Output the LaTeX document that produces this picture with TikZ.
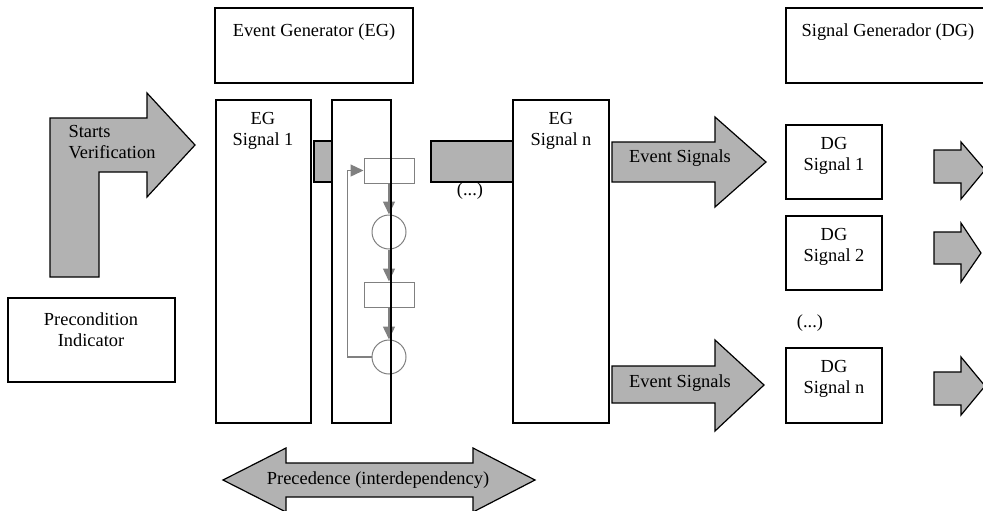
\documentclass[tikz,border=0pt]{standalone}
\usepackage{fontspec}
\setmainfont{Liberation Serif}
\usetikzlibrary{arrows.meta}
\begin{document}
\begin{tikzpicture}[x=0.5pt,y=-0.5pt,line width=0.6pt,
  fat/.style={draw=black,fill=black!30,line width=0.6pt},
  flow/.style={draw=black!50,line width=0.5pt,inner sep=0pt},
  flowarrow/.style={draw=black!50,line width=0.7pt,-{Triangle[length=6.5pt,width=6pt]}},
  every node/.style={font=\fontsize{9.2}{10.6}\selectfont,align=center}]

\clip (0,0) rectangle (983,510);

% generators
\draw (215,8) rectangle (413,83);
\node (eg) at (314,32) {Event Generator (EG)};
\draw (786,8) rectangle (995,83);
\node (dg) at (888,32) {Signal Generador (DG)};

% starts verification
\draw[fat] (50,277) -- (50,118) -- (147,118) -- (147,93) -- (195,145)
  -- (147,197) -- (147,172) -- (99,172) -- (99,277) -- cycle;
\node[anchor=west,align=left,inner sep=0pt] (start) at (68,142) {Starts\\Verification};

\draw (8,298) rectangle (175,382);
\node (pre) at (91,330) {Precondition\\Indicator};

% EG signals
\draw (216,100) rectangle (311,423);
\node (eg1) at (263,131) {EG\\Signal 1};
\draw (332,100) rectangle (391,423);
\draw (513,100) rectangle (609,423);
\node (egn) at (561,131) {EG\\Signal n};

\node (dots) at (470,191) {(...)};
\draw[fat] (314,141) rectangle (332,182);
\draw[fat] (431,141) rectangle (513,182);

% steps inside
\node[flow,rectangle,minimum width=25pt,minimum height=12.5pt] (r1) at (389,170.5) {};
\node[flow,circle,minimum size=17pt] (c1) at (389,232) {};
\node[flow,rectangle,minimum width=25pt,minimum height=12.5pt] (r2) at (389,294.5) {};
\node[flow,circle,minimum size=17pt] (c2) at (389,357) {};
\draw[flowarrow] (r1) -- (c1);
\draw[flowarrow] (c1) -- (r2);
\draw[flowarrow] (r2) -- (c2);
\draw[flowarrow] (c2.west) -- ++(-24,0) |- (r1.west);
\draw (391,100) -- (391,423);

% event signals
\draw[fat] (612,142) -- (715,142) -- (715,117) -- (766,162) -- (715,207)
  -- (715,182) -- (612,182) -- cycle;
\node (ev1) at (680,158) {Event Signals};
\draw[fat] (612,366) -- (715,366) -- (715,340) -- (764,385) -- (715,431)
  -- (715,403) -- (612,403) -- cycle;
\node (ev2) at (680,383) {Event Signals};

% DG signals
\draw (786,125) rectangle (882,199);
\node (dg1) at (834,156) {DG\\Signal 1};
\draw (786,216) rectangle (882,290);
\node (dg2) at (834,247) {DG\\Signal 2};
\node (dgdots) at (810,323) {(...)};
\draw (786,348) rectangle (882,423);
\node (dgn) at (834,379) {DG\\Signal n};

% outputs
\draw[fat] (934,150) -- (961,150) -- (961,142) -- (985,170) -- (961,199)
  -- (961,183) -- (934,183) -- cycle;
\draw[fat] (934,232) -- (961,232) -- (961,223) -- (981,253) -- (961,282)
  -- (961,264) -- (934,264) -- cycle;
\draw[fat] (934,372) -- (961,372) -- (961,357) -- (985,386) -- (961,415)
  -- (961,405) -- (934,405) -- cycle;

% precedence
\draw[fat] (223,480) -- (286,448) -- (286,463) -- (473,463) -- (473,448)
  -- (535,480) -- (473,512) -- (473,497) -- (286,497) -- (286,512) -- cycle;
\node (prec) at (378,480) {Precedence (interdependency)};

\end{tikzpicture}
\end{document}
